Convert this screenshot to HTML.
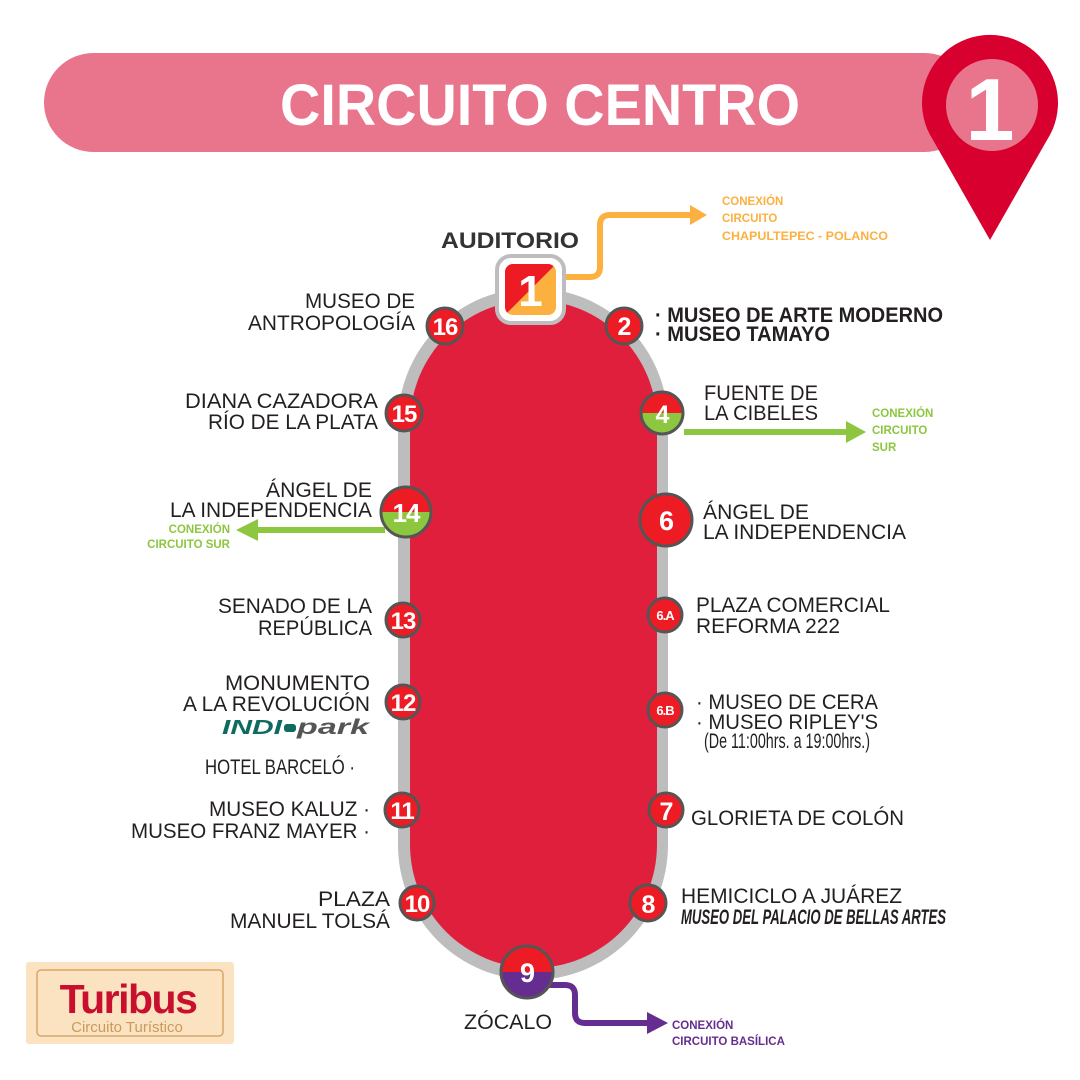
<!DOCTYPE html>
<html><head><meta charset="utf-8"><style>
html,body{margin:0;padding:0;background:#fff;}
svg{display:block;}
.l{font-family:"Liberation Sans",sans-serif;font-size:21px;fill:#231f20;}
.r{text-anchor:end;}
.n{font-family:"Liberation Sans",sans-serif;font-weight:bold;fill:#fff;text-anchor:middle;letter-spacing:-1px;}
.s{font-family:"Liberation Sans",sans-serif;font-weight:bold;font-size:11.5px;}
</style></head><body>
<svg width="1080" height="1080" viewBox="0 0 1080 1080" xmlns="http://www.w3.org/2000/svg">
<defs>
<clipPath id="c4"><circle cx="662" cy="413" r="20"/></clipPath>
<clipPath id="c14"><circle cx="406" cy="512" r="24"/></clipPath>
<clipPath id="c9"><circle cx="527" cy="972" r="25"/></clipPath>
<clipPath id="c1"><rect x="505" y="264" width="51" height="51" rx="8"/></clipPath>
</defs>
<!-- header -->
<rect x="44" y="53" width="930" height="99" rx="49.5" fill="#e9758d"/>
<text x="540" y="125" text-anchor="middle" font-family="Liberation Sans, sans-serif" font-weight="bold" font-size="58" fill="#fff" textLength="520" lengthAdjust="spacingAndGlyphs">CIRCUITO CENTRO</text>
<path d="M990 240 L933 140 A68 68 0 1 1 1047 140 Z" fill="#d8002e"/>
<circle cx="992" cy="105" r="46" fill="#e9758d"/>
<text x="990" y="140" text-anchor="middle" font-family="Liberation Sans, sans-serif" font-weight="bold" font-size="88" fill="#fff">1</text>
<!-- track -->
<rect x="398" y="288" width="270" height="692" rx="135" fill="#bdbdbd"/>
<rect x="410" y="300" width="247" height="668" rx="123.5" fill="#e01f3d"/>
<!-- connectors -->
<path d="M563 277 H590 Q600 277 600 267 V225 Q600 215 610 215 H692" fill="none" stroke="#fbb040" stroke-width="6"/>
<path d="M690 205 L707 215 L690 225 Z" fill="#fbb040"/>
<path d="M684 432 H848" stroke="#8dc63f" stroke-width="6"/>
<path d="M846 421 L866 432 L846 443 Z" fill="#8dc63f"/>
<path d="M385 530 H255" stroke="#8dc63f" stroke-width="6"/>
<path d="M258 519 L236 530 L258 541 Z" fill="#8dc63f"/>
<path d="M548 985 H565 Q575 985 575 995 V1013 Q575 1023 585 1023 H650" fill="none" stroke="#662d91" stroke-width="6"/>
<path d="M647 1012 L668 1023 L647 1034 Z" fill="#662d91"/>
<!-- stop 1 -->
<rect x="497" y="256" width="67" height="67" rx="14" fill="#fff" stroke="#bdbdbd" stroke-width="4"/>
<g clip-path="url(#c1)"><rect x="505" y="264" width="51" height="51" fill="#fbb040"/><path d="M505 264 H556 L505 315 Z" fill="#ed1c24"/></g>
<text x="530" y="306" class="n" font-size="44">1</text>
<!-- circles -->
<g stroke="#555" stroke-width="3">
<circle cx="445" cy="326" r="18" fill="#ed1c24"/>
<circle cx="624" cy="326" r="18" fill="#ed1c24"/>
<circle cx="404" cy="413" r="18" fill="#ed1c24"/>
<circle cx="403" cy="620" r="17" fill="#ed1c24"/>
<circle cx="665" cy="615" r="17" fill="#ed1c24"/>
<circle cx="403" cy="702" r="17" fill="#ed1c24"/>
<circle cx="665" cy="710" r="17" fill="#ed1c24"/>
<circle cx="402" cy="810" r="17" fill="#ed1c24"/>
<circle cx="666" cy="810" r="17" fill="#ed1c24"/>
<circle cx="417" cy="903" r="17" fill="#ed1c24"/>
<circle cx="648" cy="903" r="18" fill="#ed1c24"/>
<circle cx="666" cy="520" r="26" fill="#ed1c24"/>
</g>
<g clip-path="url(#c4)"><rect x="640" y="390" width="45" height="23" fill="#ed1c24"/><rect x="640" y="413" width="45" height="23" fill="#8dc63f"/></g>
<circle cx="662" cy="413" r="21" fill="none" stroke="#555" stroke-width="3"/>
<g clip-path="url(#c14)"><rect x="380" y="486" width="52" height="26" fill="#ed1c24"/><rect x="380" y="512" width="52" height="26" fill="#8dc63f"/></g>
<circle cx="406" cy="512" r="25" fill="none" stroke="#555" stroke-width="3"/>
<g clip-path="url(#c9)"><rect x="500" y="945" width="55" height="27" fill="#ed1c24"/><rect x="500" y="972" width="55" height="27" fill="#662d91"/></g>
<circle cx="527" cy="972" r="26" fill="none" stroke="#555" stroke-width="3"/>
<!-- numbers -->
<text x="445" y="335" class="n" font-size="24">16</text>
<text x="624" y="335" class="n" font-size="25">2</text>
<text x="404" y="422" class="n" font-size="24">15</text>
<text x="662" y="423" class="n" font-size="25">4</text>
<text x="406" y="522" class="n" font-size="26">14</text>
<text x="666" y="530" class="n" font-size="27">6</text>
<text x="403" y="629" class="n" font-size="24">13</text>
<text x="665" y="620" class="n" font-size="13">6.A</text>
<text x="403" y="711" class="n" font-size="24">12</text>
<text x="665" y="715" class="n" font-size="13">6.B</text>
<text x="402" y="819" class="n" font-size="24">11</text>
<text x="666" y="820" class="n" font-size="25">7</text>
<text x="417" y="912" class="n" font-size="24">10</text>
<text x="648" y="913" class="n" font-size="25">8</text>
<text x="527" y="982" class="n" font-size="27">9</text>
<!-- left labels -->
<text class="l r" x="415" y="308" textLength="110" lengthAdjust="spacingAndGlyphs">MUSEO DE</text>
<text class="l r" x="415" y="330" textLength="167" lengthAdjust="spacingAndGlyphs">ANTROPOLOGÍA</text>
<text class="l r" x="378" y="408" textLength="193" lengthAdjust="spacingAndGlyphs">DIANA CAZADORA</text>
<text class="l r" x="378" y="429" textLength="170" lengthAdjust="spacingAndGlyphs">RÍO DE LA PLATA</text>
<text class="l r" x="372" y="497" textLength="106" lengthAdjust="spacingAndGlyphs">ÁNGEL DE</text>
<text class="l r" x="372" y="517" textLength="202" lengthAdjust="spacingAndGlyphs">LA INDEPENDENCIA</text>
<text class="s r" x="230" y="533" fill="#8dc63f">CONEXIÓN</text>
<text class="s r" x="230" y="548" fill="#8dc63f">CIRCUITO SUR</text>
<text class="l r" x="372" y="613" textLength="154" lengthAdjust="spacingAndGlyphs">SENADO DE LA</text>
<text class="l r" x="372" y="635" textLength="114" lengthAdjust="spacingAndGlyphs">REPÚBLICA</text>
<text class="l r" x="370" y="690" textLength="145" lengthAdjust="spacingAndGlyphs">MONUMENTO</text>
<text class="l r" x="370" y="711" textLength="187" lengthAdjust="spacingAndGlyphs">A LA REVOLUCIÓN</text>
<text x="282" y="734" text-anchor="end" font-family="Liberation Sans, sans-serif" font-weight="bold" font-style="italic" font-size="20" fill="#0f6a5f" textLength="60" lengthAdjust="spacingAndGlyphs">INDI</text>
<rect x="284" y="724" width="12" height="8" rx="3" fill="#0f6a5f"/>
<text x="297" y="734" font-family="Liberation Sans, sans-serif" font-weight="bold" font-style="italic" font-size="21" fill="#555" textLength="72" lengthAdjust="spacingAndGlyphs">park</text>
<text class="l r" x="355" y="774" font-size="17" textLength="150" lengthAdjust="spacingAndGlyphs">HOTEL BARCELÓ ·</text>
<text class="l r" x="370" y="816" textLength="161" lengthAdjust="spacingAndGlyphs">MUSEO KALUZ ·</text>
<text class="l r" x="370" y="838" textLength="239" lengthAdjust="spacingAndGlyphs">MUSEO FRANZ MAYER ·</text>
<text class="l r" x="390" y="906" textLength="72" lengthAdjust="spacingAndGlyphs">PLAZA</text>
<text class="l r" x="390" y="928" textLength="160" lengthAdjust="spacingAndGlyphs">MANUEL TOLSÁ</text>
<text x="510" y="248" text-anchor="middle" font-family="Liberation Sans, sans-serif" font-weight="bold" font-size="22" fill="#333" textLength="138" lengthAdjust="spacingAndGlyphs">AUDITORIO</text>
<!-- right labels -->
<text class="l" x="655" y="322" font-weight="bold" textLength="288" lengthAdjust="spacingAndGlyphs">· MUSEO DE ARTE MODERNO</text>
<text class="l" x="655" y="341" font-weight="bold" textLength="175" lengthAdjust="spacingAndGlyphs">· MUSEO TAMAYO</text>
<text class="l" x="704" y="400" textLength="114" lengthAdjust="spacingAndGlyphs">FUENTE DE</text>
<text class="l" x="704" y="420" textLength="114" lengthAdjust="spacingAndGlyphs">LA CIBELES</text>
<text class="s" x="872" y="417" fill="#8dc63f">CONEXIÓN</text>
<text class="s" x="872" y="434" fill="#8dc63f">CIRCUITO</text>
<text class="s" x="872" y="451" fill="#8dc63f">SUR</text>
<text class="l" x="703" y="519" textLength="106" lengthAdjust="spacingAndGlyphs">ÁNGEL DE</text>
<text class="l" x="703" y="539" textLength="203" lengthAdjust="spacingAndGlyphs">LA INDEPENDENCIA</text>
<text class="l" x="696" y="612" textLength="194" lengthAdjust="spacingAndGlyphs">PLAZA COMERCIAL</text>
<text class="l" x="696" y="633" textLength="144" lengthAdjust="spacingAndGlyphs">REFORMA 222</text>
<text class="l" x="696" y="709" textLength="182" lengthAdjust="spacingAndGlyphs">· MUSEO DE CERA</text>
<text class="l" x="696" y="729" textLength="182" lengthAdjust="spacingAndGlyphs">· MUSEO RIPLEY'S</text>
<text class="l" x="704" y="748" font-size="13" textLength="166" lengthAdjust="spacingAndGlyphs">(De 11:00hrs. a 19:00hrs.)</text>
<text class="l" x="691" y="825" textLength="213" lengthAdjust="spacingAndGlyphs">GLORIETA DE COLÓN</text>
<text class="l" x="681" y="903" textLength="221" lengthAdjust="spacingAndGlyphs">HEMICICLO A JUÁREZ</text>
<text class="l" x="681" y="924" font-size="13" font-weight="bold" font-style="italic" textLength="265" lengthAdjust="spacingAndGlyphs">MUSEO DEL PALACIO DE BELLAS ARTES</text>
<text class="s" x="722" y="205" fill="#fbb040">CONEXIÓN</text>
<text class="s" x="722" y="222" fill="#fbb040">CIRCUITO</text>
<text class="s" x="722" y="240" fill="#fbb040" textLength="166" lengthAdjust="spacingAndGlyphs">CHAPULTEPEC - POLANCO</text>
<text class="l" x="508" y="1029" text-anchor="middle" textLength="88" lengthAdjust="spacingAndGlyphs">ZÓCALO</text>
<text class="s" x="672" y="1029" fill="#662d91">CONEXIÓN</text>
<text class="s" x="672" y="1045" fill="#662d91">CIRCUITO BASÍLICA</text>
<!-- logo -->
<rect x="26" y="962" width="208" height="82" rx="3" fill="#fbe3c2"/>
<rect x="37" y="970" width="186" height="66" rx="4" fill="none" stroke="#d9a56b" stroke-width="1.5"/>
<text x="128" y="1013" text-anchor="middle" font-family="Liberation Sans, sans-serif" font-weight="bold" font-size="41" fill="#c8102e" letter-spacing="-1.5">Turibus</text>
<text x="127" y="1032" text-anchor="middle" font-family="Liberation Sans, sans-serif" font-size="15" fill="#c99a5b">Circuito Turístico</text>
</svg>
</body></html>
